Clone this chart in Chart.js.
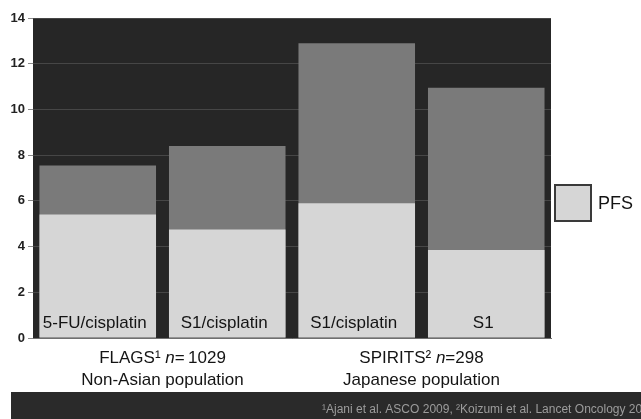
<!DOCTYPE html>
<html>
<head>
<meta charset="utf-8">
<script src="https://cdn.jsdelivr.net/npm/chart.js@4.4.1/dist/chart.umd.min.js"></script>
<style>
  html, body { margin: 0; padding: 0; background: #fff; }
  #wrap { width: 641px; height: 419px; }
</style>
</head>
<body>
<div id="wrap"><canvas id="chart" width="641" height="419"></canvas></div>
<script>
// Median survival in months, per treatment arm
const regimens = ['5-FU/cisplatin', 'S1/cisplatin', 'S1/cisplatin', 'S1'];
const pfsMonths = [5.4, 4.75, 5.9, 3.85];
const osMonths = [7.55, 8.4, 12.9, 10.95];
const yTicks = [0, 2, 4, 6, 8, 10, 12, 14];

// Trial groups (two arms each)
const trialNames = ['FLAGS\u00b9', 'SPIRITS\u00b2'];
const trialSizes = ['1029', '298'];
const populations = ['Non-Asian population', 'Japanese population'];
const citation = '\u00b9Ajani et al. ASCO 2009, \u00b2Koizumi et al. Lancet Oncology 2008';

const FONT = "'Liberation Sans', Arial, Helvetica, sans-serif";
const INK = '#141414';
const PLOT_BG = '#262626';
const PFS_FILL = '#d6d6d6';
const OS_FILL = '#7a7a7a';

const slideDecor = {
  id: 'slideDecor',
  beforeDraw(chart) {
    const { ctx, chartArea: a } = chart;
    ctx.save();
    ctx.fillStyle = '#ffffff';
    ctx.fillRect(0, 0, chart.width, chart.height);
    ctx.fillStyle = PLOT_BG;
    ctx.fillRect(a.left, a.top, a.right - a.left, a.bottom - a.top);
    ctx.restore();
  },
  afterDatasetsDraw(chart) {
    const { ctx, chartArea: a } = chart;
    const bars = chart.getDatasetMeta(1).data;
    ctx.save();

    // arm names sit inside the foot of each bar
    ctx.fillStyle = INK;
    ctx.font = `17px ${FONT}`;
    ctx.textAlign = 'center';
    ctx.textBaseline = 'middle';
    bars.forEach((bar, i) => {
      ctx.fillText(regimens[i], bar.x - 3, a.bottom - 15);
    });

    // trial name / size / population under each pair of bars
    trialNames.forEach((name, g) => {
      const cx = (bars[g * 2].x + bars[g * 2 + 1].x) / 2;
      const parts = [
        { t: name + ' ', f: `17px ${FONT}` },
        { t: 'n', f: `italic 17px ${FONT}` },
        { t: '=' + (g === 0 ? '\u2009' : '') + trialSizes[g], f: `17px ${FONT}` },
      ];
      let w = 0;
      parts.forEach((p) => { ctx.font = p.f; p.w = ctx.measureText(p.t).width; w += p.w; });
      let x = cx - w / 2;
      ctx.textAlign = 'left';
      parts.forEach((p) => {
        ctx.font = p.f;
        ctx.fillText(p.t, x, 358);
        x += p.w;
      });
      ctx.textAlign = 'center';
      ctx.font = `17px ${FONT}`;
      ctx.fillText(populations[g], cx, 380);
    });

    // legend key for PFS
    ctx.fillStyle = PFS_FILL;
    ctx.fillRect(555, 185, 36, 36);
    ctx.strokeStyle = '#3a3a3a';
    ctx.lineWidth = 2;
    ctx.strokeRect(555, 185, 36, 36);
    ctx.fillStyle = INK;
    ctx.font = `18px ${FONT}`;
    ctx.textAlign = 'left';
    ctx.fillText(chart.data.datasets[0].label, 598, 204);

    // reference band
    ctx.fillStyle = '#2a2a2a';
    ctx.fillRect(11, 392, chart.width - 11, chart.height - 392);
    ctx.fillStyle = '#9c9c9c';
    ctx.font = `12px ${FONT}`;
    ctx.fillText(citation, 322, 410);
    ctx.restore();
  },
};

new Chart(document.getElementById('chart'), {
  type: 'bar',
  data: {
    labels: regimens,
    datasets: [
      {
        label: 'PFS',
        data: pfsMonths,
        backgroundColor: PFS_FILL,
        order: 0,
      },
      {
        label: 'OS',
        data: osMonths,
        backgroundColor: OS_FILL,
        order: 1,
      },
    ],
  },
  options: {
    responsive: false,
    animation: false,
    layout: {
      padding: { left: 0, top: 18, right: 90, bottom: 81 },
    },
    datasets: {
      bar: {
        grouped: false,
        barPercentage: 0.9,
        categoryPercentage: 1.0,
        borderWidth: 0,
      },
    },
    scales: {
      x: {
        grid: { display: false },
        ticks: { display: false },
        border: { display: true, color: '#6f6f6f', width: 1 },
        afterFit: (scale) => { scale.height = 0; },
      },
      y: {
        min: 0,
        max: 14,
        afterBuildTicks: (scale) => { scale.ticks = yTicks.map((v) => ({ value: v })); },
        grid: {
          color: '#464646',
          lineWidth: 1,
          tickColor: '#8a8a8a',
          tickLength: 5,
        },
        border: { display: false },
        ticks: {
          padding: 3,
          color: '#222222',
          font: { family: FONT, size: 13, weight: 'bold' },
        },
        afterFit: (scale) => { scale.width = 33; },
      },
    },
    plugins: {
      legend: { display: false },
      tooltip: { enabled: false },
    },
  },
  plugins: [slideDecor],
});
</script>
</body>
</html>
